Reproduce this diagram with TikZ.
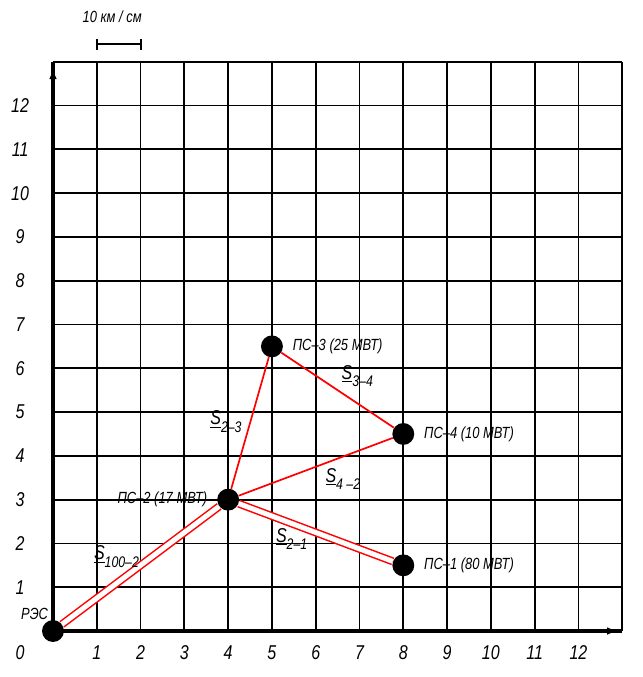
\documentclass[tikz,border=0pt]{standalone}
\usepackage{fontspec}
\setsansfont{Liberation Sans}[FakeStretch=0.8]
\usetikzlibrary{arrows.meta}
\newcommand\sline[1]{\underline{S}\raisebox{-0.7ex}{\fontsize{10}{12}\selectfont#1}}

\begin{document}
\begin{tikzpicture}[font=\sffamily\itshape]
\tikzset{
  ps/.style={circle,fill=black,inner sep=0pt,minimum size=0.5cm},
  lbl/.style={font=\sffamily\itshape\fontsize{10.5}{12}\selectfont,inner sep=2pt},
  num/.style={font=\sffamily\itshape\fontsize{13}{15}\selectfont},
  sname/.style={font=\sffamily\itshape\fontsize{13}{15}\selectfont},
  oneline/.style={red,line width=1.1pt},
  twoline/.style={draw=red,double=white,double distance=3.2pt,line width=1pt}
}
\useasboundingbox (-1.21,-1.05) rectangle (13.47,14.41);
	% grid
	\draw[line width=1.2pt] (0,0) grid (13,13);
	\draw[line width=2pt] (0,0) -- (13,0);
	\draw[line width=2pt] (0,0) -- (0,13);
	\draw[line width=1.5pt,-{Latex[length=7pt,width=5pt]}] (12.5,0) -- (12.9,0);
	\draw[line width=1.5pt,-{Latex[length=7pt,width=5pt]}] (0,12.4) -- (0,12.85);
	\foreach \i in {1,...,12} {
		\draw (\i,-0.5) node[num]{\i};
		\draw (-0.75,\i) node[num]{\i};
	}
	\draw (-0.75,-0.5) node[num]{0};
	% scale
	\draw[line width=1.3pt] (1,13.4) -- (2,13.4);
	\draw[line width=1.3pt] (1,13.27) -- (1,13.53);
	\draw[line width=1.3pt] (2,13.27) -- (2,13.53);
	\node[lbl] (scale) at (1.35,14.03) {10 км / см};

	% substations
	\node[ps] (res) at (0,0) {};
	\node[ps] (ps2) at (4,3) {};
	\node[ps] (ps3) at (5,6.5) {};
	\node[ps] (ps4) at (8,4.5) {};
	\node[ps] (ps1) at (8,1.5) {};

	\node[lbl] (tres) at (-0.42,0.4) {РЭС};
	\node[lbl,left] (tps2) at (3.6,3) {ПС–2 (17 МВТ)};
	\node[lbl,right] (tps3) at (5.4,6.5) {ПС–3 (25 МВТ)};
	\node[lbl,right] (tps4) at (8.4,4.5) {ПС–4 (10 МВТ)};
	\node[lbl,right] (tps1) at (8.4,1.5) {ПС–1 (80 МВТ)};

	% lines
	\draw[twoline] (res) -- (ps2);
	\draw[twoline] (ps2) -- (ps1);
	\draw[oneline] (ps2) -- (ps3);
	\draw[oneline] (ps3) -- (ps4);
	\draw[oneline] (ps4) -- (ps2);

	\node[sname] (s1002) at (1.45,1.7) {\sline{100–2}};
	\node[sname] (s23) at (3.95,4.78) {\sline{2–3}};
	\node[sname] (s34) at (6.95,5.82) {\sline{3–4}};
	\node[sname] (s42) at (6.62,3.47) {\sline{4 –2}};
	\node[sname] (s21) at (5.45,2.1) {\sline{2–1}};
\end{tikzpicture}
\end{document}
